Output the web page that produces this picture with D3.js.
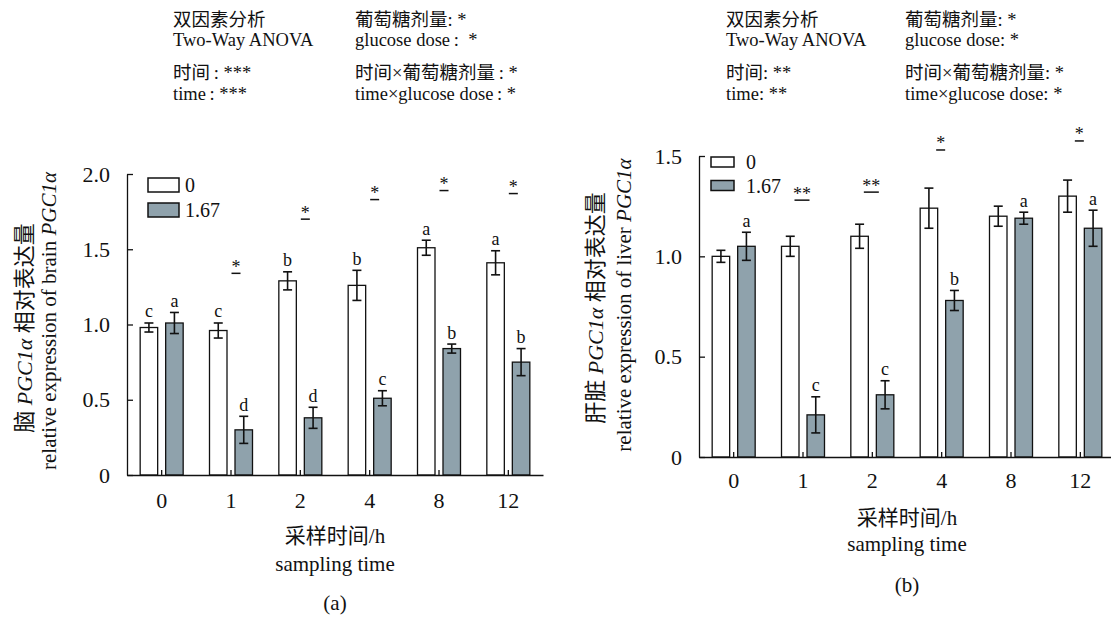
<!doctype html>
<html lang="zh">
<head>
<meta charset="utf-8">
<title>PGC1α</title>
<style>
  body { margin: 0; background: #fff; }
  svg { display: block; }
  text {
    font-family: "Liberation Serif", "Times New Roman", "Noto Sans CJK SC", serif;
    fill: #111;
  }
  .pre { white-space: pre; }
  .axis path, .axis line { stroke: #111; stroke-width: 1.3; }
  .axis text { font-size: 22px; font-family: "Liberation Serif", serif; }
</style>
</head>
<body>
<div id="root"></div>
<script src="https://cdn.jsdelivr.net/npm/d3@7"></script>
<script>

// ---- data ----
var categories = ["0", "1", "2", "4", "8", "12"];
var legendLabels = ["0", "1.67"];

// (a) brain
var brainCtrl    = [0.98, 0.96, 1.29, 1.26, 1.51, 1.41];
var brainCtrlErr = [0.03, 0.05, 0.06, 0.10, 0.05, 0.08];
var brainGlu     = [1.01, 0.30, 0.38, 0.51, 0.84, 0.75];
var brainGluErr  = [0.07, 0.09, 0.07, 0.05, 0.03, 0.09];
var brainCtrlLetters = ["c", "c", "b", "b", "a", "a"];
var brainGluLetters  = ["a", "d", "d", "c", "b", "b"];
var brainSig      = ["", "*", "*", "*", "*", "*"];
var brainSigLevel = [null, 1.34, 1.70, 1.83, 1.89, 1.87];
var brainTicks = [0, 0.5, 1.0, 1.5, 2.0];

// (b) liver
var liverCtrl    = [1.00, 1.05, 1.10, 1.24, 1.20, 1.30];
var liverCtrlErr = [0.03, 0.05, 0.06, 0.10, 0.05, 0.08];
var liverGlu     = [1.05, 0.21, 0.31, 0.78, 1.19, 1.14];
var liverGluErr  = [0.07, 0.09, 0.07, 0.05, 0.03, 0.09];
var liverCtrlLetters = ["", "", "", "", "", ""];
var liverGluLetters  = ["a", "c", "c", "b", "a", "a"];
var liverSig      = ["", "**", "**", "*", "", "*"];
var liverSigLevel = [null, 1.28, 1.32, 1.53, null, 1.575];
var liverTicks = [0, 0.5, 1.0, 1.5];

var headerA = [
  ["双因素分析", "Two-Way ANOVA", "时间\u2009: ***", "time\u2009: ***"],
  ["葡萄糖剂量: *", "glucose dose\u2009:\u2002*", "时间×葡萄糖剂量\u2009: *", "time×glucose dose\u2009: *"]
];
var headerB = [
  ["双因素分析", "Two-Way ANOVA", "时间: **", "time: **"],
  ["葡萄糖剂量: *", "glucose dose: *", "时间×葡萄糖剂量: *", "time×glucose dose: *"]
];

var grayFill = "#8fa2ac";
var plotW = 416, plotH = 301;

var svg = d3.select("#root").append("svg")
    .attr("width", 1111)
    .attr("height", 619);

function drawPanel(p) {
  var g = svg.append("g")
      .attr("transform", "translate(" + p.left + "," + p.top + ")");

  var x = d3.scaleBand().domain(categories).range([0, plotW]);
  var y = d3.scaleLinear().domain([0, p.yMax]).range([plotH, 0]);
  var c = function(i) { return x(categories[i]) + x.bandwidth() / 2; };

  // header (two-way anova)
  var rowsY = [26, 46, 79, 100];
  p.header.forEach(function(col, ci) {
    col.forEach(function(t, ri) {
      svg.append("text")
        .attr("class", "pre")
        .attr("x", p.headerX[ci])
        .attr("y", rowsY[ri])
        .style("font-size", "18.5px")
        .text(t);
    });
  });

  // bars
  var series = [
    { vals: p.ctrl, err: p.ctrlErr, letters: p.ctrlLetters, dx: -21.5, fill: "#fff" },
    { vals: p.glu,  err: p.gluErr,  letters: p.gluLetters,  dx: 4,     fill: grayFill }
  ];
  var bw = 17.5;

  series.forEach(function(s) {
    g.selectAll(null)
      .data(s.vals)
      .enter().append("rect")
      .attr("x", function(d, i) { return c(i) + s.dx; })
      .attr("y", function(d) { return y(d); })
      .attr("width", bw)
      .attr("height", function(d) { return y(0) - y(d); })
      .attr("fill", s.fill)
      .attr("stroke", "#111")
      .attr("stroke-width", 1.3);

    var eb = g.selectAll(null)
      .data(s.vals)
      .enter().append("g")
      .attr("transform", function(d, i) { return "translate(" + (c(i) + s.dx + bw / 2) + ",0)"; });
    eb.append("line")
      .attr("y1", function(d, i) { return y(d - s.err[i]); })
      .attr("y2", function(d, i) { return y(d + s.err[i]); });
    eb.append("line")
      .attr("x1", -4.5).attr("x2", 4.5)
      .attr("y1", function(d, i) { return y(d - s.err[i]); })
      .attr("y2", function(d, i) { return y(d - s.err[i]); });
    eb.append("line")
      .attr("x1", -4.5).attr("x2", 4.5)
      .attr("y1", function(d, i) { return y(d + s.err[i]); })
      .attr("y2", function(d, i) { return y(d + s.err[i]); });
    eb.selectAll("line").attr("stroke", "#111").attr("stroke-width", 1.6);

    eb.append("text")
      .attr("text-anchor", "middle")
      .attr("y", function(d, i) { return y(d + s.err[i]) - 5.5; })
      .style("font-size", "18px")
      .text(function(d, i) { return s.letters[i]; });
  });

  // significance marks
  p.sig.forEach(function(t, i) {
    if (!t) return;
    var yy = y(p.sigLevel[i]);
    var cx = c(i) + p.sigDx;
    g.append("text")
      .attr("x", cx)
      .attr("y", yy - 0.5)
      .attr("text-anchor", "middle")
      .style("font-size", "18px")
      .text(t);
    var hw = t.length > 1 ? 7.5 : 4.5;
    g.append("line")
      .attr("x1", cx - hw).attr("x2", cx + hw)
      .attr("y1", yy).attr("y2", yy)
      .attr("stroke", "#111").attr("stroke-width", 1.5);
  });

  // axes
  g.append("g")
    .attr("class", "axis")
    .call(d3.axisLeft(y)
      .tickValues(p.ticks)
      .tickSizeInner(-6)
      .tickSizeOuter(0)
      .tickPadding(17)
      .tickFormat(function(d) { return d === 0 ? "0" : d.toFixed(1); }));

  g.append("g")
    .attr("class", "axis")
    .attr("transform", "translate(0," + plotH + ")")
    .call(d3.axisBottom(x)
      .tickSizeInner(-5)
      .tickSizeOuter(0)
      .tickPadding(p.xPad));

  // legend
  legendLabels.forEach(function(t, i) {
    g.append("rect")
      .attr("x", p.leg.x)
      .attr("y", p.leg.y + i * p.leg.step)
      .attr("width", p.leg.w)
      .attr("height", p.leg.h)
      .attr("fill", i === 0 ? "#fff" : grayFill)
      .attr("stroke", "#111")
      .attr("stroke-width", 1.5);
    g.append("text")
      .attr("x", p.leg.tx)
      .attr("y", p.leg.ty + i * p.leg.step)
      .style("font-size", "20px")
      .text(t);
  });

  // y title (two lines, rotated)
  var t1 = svg.append("text")
      .attr("transform", "translate(" + p.yt[0] + "," + p.yt[1] + ") rotate(-90)")
      .attr("text-anchor", "middle")
      .style("font-size", "22px");
  t1.append("tspan").text(p.organZh + " ");
  t1.append("tspan").style("font-style", "italic").text("PGC1α");
  t1.append("tspan").text(" 相对表达量");

  var t2 = svg.append("text")
      .attr("transform", "translate(" + p.yt[2] + "," + p.yt[3] + ") rotate(-90)")
      .attr("text-anchor", "middle")
      .style("font-size", "21px");
  t2.append("tspan").text("relative expression of " + p.organEn + " ");
  t2.append("tspan").style("font-style", "italic").text("PGC1α");

  // x title
  var mid = p.left + plotW / 2;
  var xt = [["采样时间/h", p.xt[0]], ["sampling time", p.xt[1]], [p.tag, p.xt[2]]];
  xt.forEach(function(r) {
    svg.append("text")
      .attr("x", mid)
      .attr("y", r[1])
      .attr("text-anchor", "middle")
      .style("font-size", "21px")
      .text(r[0]);
  });
}

drawPanel({
  left: 127, top: 174, yMax: 2.0, ticks: brainTicks,
  ctrl: brainCtrl, ctrlErr: brainCtrlErr, glu: brainGlu, gluErr: brainGluErr,
  ctrlLetters: brainCtrlLetters, gluLetters: brainGluLetters,
  sig: brainSig, sigLevel: brainSigLevel, sigDx: 5,
  header: headerA, headerX: [173, 355],
  leg: { x: 21, y: 4, w: 31, h: 14, step: 25, tx: 58, ty: 18 },
  xPad: 17,
  organZh: "脑", organEn: "brain",
  yt: [32, 328, 56, 321],
  xt: [543, 571, 610], tag: "(a)"
});

drawPanel({
  left: 699, top: 156, yMax: 1.5, ticks: liverTicks,
  ctrl: liverCtrl, ctrlErr: liverCtrlErr, glu: liverGlu, gluErr: liverGluErr,
  ctrlLetters: liverCtrlLetters, gluLetters: liverGluLetters,
  sig: liverSig, sigLevel: liverSigLevel, sigDx: -1,
  header: headerB, headerX: [726, 905],
  leg: { x: 12, y: 1, w: 23, h: 10, step: 23.5, tx: 47, ty: 13 },
  xPad: 15,
  organZh: "肝脏", organEn: "liver",
  yt: [603, 308, 631, 305],
  xt: [525, 551, 592], tag: "(b)"
});

</script>
</body>
</html>
